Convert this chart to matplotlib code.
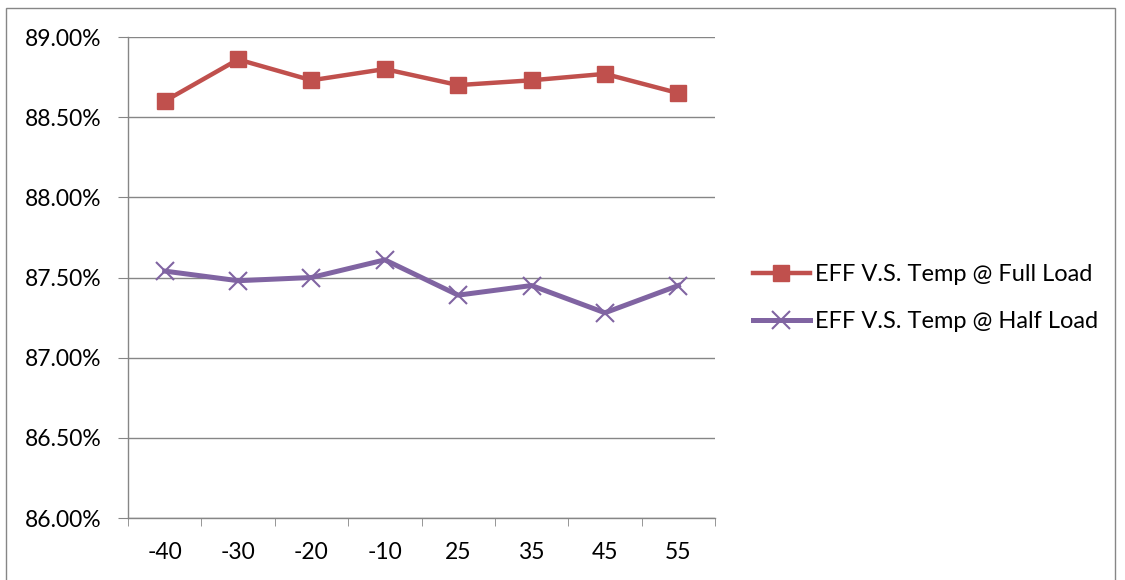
import numpy as np
from matplotlib import pyplot as plt
from matplotlib.patches import Rectangle
from matplotlib.ticker import FixedLocator, PercentFormatter

temps = ['-40', '-30', '-20', '-10', '25', '35', '45', '55']
fullLoad = [88.60, 88.86, 88.73, 88.80, 88.70, 88.73, 88.77, 88.65]
halfLoad = [87.54, 87.48, 87.50, 87.61, 87.39, 87.45, 87.28, 87.45]
yTicks = [86.0, 86.5, 87.0, 87.5, 88.0, 88.5, 89.0]

plt.rcParams['font.family'] = ['Lato', 'DejaVu Sans']

fig = plt.figure(figsize=(11.25, 5.8), dpi=100)
ax = fig.add_axes([128 / 1125, 1 - 518 / 580, (715 - 128) / 1125, (518 - 37) / 580])

x = np.arange(len(temps))
ax.plot(x, fullLoad, color='#C0504D', lw=3.2, marker='s', markersize=12,
        label='EFF V.S. Temp @ Full Load', zorder=3)
ax.plot(x, halfLoad, color='#8064A2', lw=3.6, marker='x', markersize=12.5, markeredgewidth=1.5,
        label='EFF V.S. Temp @ Half Load', zorder=3)

ax.set_xlim(-0.5, len(temps) - 0.5)
ax.set_ylim(86.0, 89.0)
ax.set_yticks(yTicks)
ax.yaxis.set_major_formatter(PercentFormatter(decimals=2))
ax.set_xticks(x)
ax.set_xticklabels(temps)
ax.xaxis.set_minor_locator(FixedLocator(np.arange(len(temps) + 1) - 0.5))

ax.grid(axis='y', color='#868686', lw=1)
ax.set_axisbelow(True)
for side in ['top', 'right']:
    ax.spines[side].set_visible(False)
for side in ['left', 'bottom']:
    ax.spines[side].set_color('#868686')
    ax.spines[side].set_linewidth(1)

ax.tick_params(axis='x', which='major', length=0, pad=17, labelsize=16.5)
ax.tick_params(axis='x', which='minor', length=6, color='#868686', direction='out')
ax.tick_params(axis='y', length=7, color='#868686', pad=12, labelsize=16.5)

ax.legend(loc='center left', bbox_to_anchor=(753 / 1125, 1 - 298 / 580),
          bbox_transform=fig.transFigure, frameon=False, fontsize=17,
          handlelength=2.4, handletextpad=0.22, labelspacing=1.1, borderpad=0, borderaxespad=0)

# chart border
fig.patches.append(Rectangle((6 / 1125, -0.05), (1115 - 6) / 1125, 1.05 - 8 / 580,
                             transform=fig.transFigure, fill=False, edgecolor='#868686', lw=1))

fig.savefig('out.png', dpi=100)
